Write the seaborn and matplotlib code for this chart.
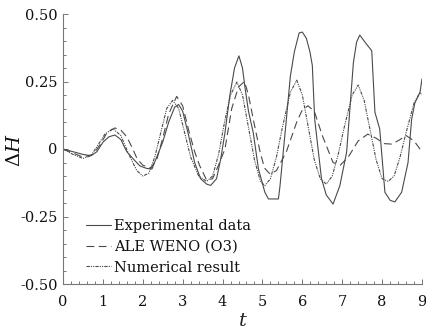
import numpy as np
import pandas as pd
import matplotlib
matplotlib.use("Agg")
import matplotlib.pyplot as plt
import seaborn as sns
from matplotlib.ticker import MultipleLocator, FixedLocator, FixedFormatter

# ---------------- data ----------------
exp_t = [0, 0.25, 0.5, 0.7, 0.85, 1.0, 1.15, 1.3, 1.45, 1.6, 1.75, 1.93, 2.1, 2.23, 2.35, 2.5,
         2.65, 2.8, 2.9, 3.0, 3.15, 3.3, 3.45, 3.6, 3.7, 3.85, 3.95, 4.06, 4.18, 4.3, 4.41,
         4.5, 4.56, 4.65, 4.77, 4.9, 5.06, 5.15, 5.4, 5.44, 5.6, 5.7, 5.8, 5.92, 6.0, 6.1,
         6.19, 6.25, 6.31, 6.48, 6.6, 6.77, 6.94, 7.11, 7.28, 7.36, 7.44, 7.6, 7.74, 7.82,
         7.94, 8.07, 8.2, 8.32, 8.49, 8.65, 8.74, 8.82, 8.95, 9.0]
exp_y = [0, -0.01, -0.02, -0.025, -0.01, 0.025, 0.045, 0.052, 0.035, -0.01, -0.035, -0.063,
         -0.072, -0.074, -0.03, 0.026, 0.1, 0.155, 0.165, 0.14, 0.05, -0.05, -0.11, -0.13,
         -0.135, -0.11, -0.04, 0.06, 0.196, 0.3, 0.345, 0.3, 0.23, 0.14, 0.06, -0.074, -0.16,
         -0.185, -0.185, -0.137, 0.11, 0.27, 0.36, 0.43, 0.433, 0.41, 0.36, 0.31, 0.11, -0.11,
         -0.17, -0.204, -0.136, -0.012, 0.32, 0.396, 0.422, 0.39, 0.364, 0.136, 0.074, -0.16,
         -0.19, -0.196, -0.16, -0.05, 0.11, 0.17, 0.21, 0.26]

ale_t = [0, 0.25, 0.5, 0.75, 0.95, 1.1, 1.3, 1.45, 1.6, 1.75, 1.86, 2.0, 2.2, 2.35, 2.5, 2.65,
         2.85, 3.0, 3.15, 3.3, 3.43, 3.6, 3.75, 3.9, 4.06, 4.23, 4.4, 4.55, 4.65, 4.77, 4.94,
         5.05, 5.19, 5.35, 5.6, 5.86, 6.0, 6.14, 6.3, 6.5, 6.77, 6.95, 7.15, 7.4, 7.64, 7.85,
         8.05, 8.25, 8.45, 8.6, 8.8, 9.0]
ale_y = [0, -0.015, -0.03, -0.02, 0.02, 0.06, 0.078, 0.07, 0.045, 0.0, -0.037, -0.06, -0.07,
         -0.04, 0.04, 0.13, 0.195, 0.16, 0.07, -0.01, -0.063, -0.115, -0.11, -0.06, 0.0, 0.15,
         0.23, 0.25, 0.2, 0.11, -0.01, -0.07, -0.093, -0.08, -0.01, 0.1, 0.145, 0.16, 0.14,
         0.05, -0.05, -0.06, -0.03, 0.03, 0.055, 0.04, 0.02, 0.018, 0.035, 0.05, 0.03, -0.01]

num_t = [0, 0.25, 0.5, 0.7, 0.9, 1.05, 1.25, 1.45, 1.65, 1.85, 2.0, 2.15, 2.3, 2.45, 2.6, 2.75,
         2.9, 3.05, 3.2, 3.4, 3.6, 3.75, 3.9, 4.05, 4.2, 4.36, 4.5, 4.65, 4.8, 4.95, 5.06, 5.2,
         5.35, 5.5, 5.7, 5.86, 6.0, 6.15, 6.3, 6.45, 6.6, 6.75, 6.9, 7.05, 7.25, 7.4, 7.55,
         7.7, 7.85, 8.0, 8.15, 8.3, 8.45, 8.6, 8.8, 8.95, 9.0]
num_y = [0, -0.02, -0.035, -0.025, 0.02, 0.055, 0.075, 0.05, -0.02, -0.08, -0.1, -0.09, -0.03,
         0.06, 0.15, 0.18, 0.15, 0.06, -0.03, -0.1, -0.12, -0.1, -0.02, 0.1, 0.2, 0.248, 0.2,
         0.08, -0.04, -0.12, -0.136, -0.11, -0.03, 0.08, 0.21, 0.255, 0.2, 0.08, -0.04, -0.11,
         -0.13, -0.1, -0.02, 0.08, 0.2, 0.237, 0.18, 0.07, -0.04, -0.11, -0.12, -0.1, -0.03,
         0.06, 0.17, 0.21, 0.2]

labels = ["Experimental data", "ALE WENO (O3)", "Numerical result"]
x_ticks = [0, 1, 2, 3, 4, 5, 6, 7, 8, 9]
y_ticks = [-0.5, -0.25, 0, 0.25, 0.5]
y_tick_labels = ["-0.50", "-0.25", "0", "0.25", "0.50"]

# ---------------- style ----------------
sns.set_theme(style="ticks")
plt.rcParams["font.family"] = ["DejaVu Serif"]
plt.rcParams["mathtext.fontset"] = "dejavuserif"
plt.rcParams["axes.unicode_minus"] = False

fig = plt.figure(figsize=(4.27, 3.33), dpi=100)
ax = fig.add_axes([63 / 427, 1 - 284 / 333, (422 - 63) / 427, (284 - 14) / 333])

lc = "#4a4a4a"
sns.lineplot(x=exp_t, y=exp_y, ax=ax, color=lc, lw=0.8, label=labels[0], sort=False)
sns.lineplot(x=ale_t, y=ale_y, ax=ax, color=lc, lw=0.8, label=labels[1], sort=False,
             linestyle=(0, (7, 4)))
sns.lineplot(x=num_t, y=num_y, ax=ax, color=lc, lw=0.8, label=labels[2], sort=False,
             linestyle=(0, (3, 1, 1, 1, 1, 1)))

ax.set_xlim(0, 9)
ax.set_ylim(-0.5, 0.5)
ax.xaxis.set_major_locator(FixedLocator(x_ticks))
ax.xaxis.set_minor_locator(MultipleLocator(0.2))
ax.yaxis.set_major_locator(FixedLocator(y_ticks))
ax.yaxis.set_major_formatter(FixedFormatter(y_tick_labels))
ax.yaxis.set_minor_locator(MultipleLocator(0.05))

for s in ["top", "right"]:
    ax.spines[s].set_visible(False)
for s in ["left", "bottom"]:
    ax.spines[s].set_color("#777777")
    ax.spines[s].set_linewidth(0.8)

ax.tick_params(which="both", direction="in", color="#777777", width=0.7,
               labelsize=10.5, labelcolor="#111111")
ax.tick_params(which="major", length=3.5)
ax.tick_params(which="minor", length=2)
ax.tick_params(axis="y", which="major", pad=4)
ax.tick_params(axis="x", which="major", pad=8)

ax.set_xlabel(r"$t$", fontsize=14, labelpad=2)
ax.set_ylabel("")
fig.text(15 / 427, 1 - 150 / 333, r"$\Delta H$", fontsize=14, rotation=90,
         ha="center", va="center", color="#111111")

leg = ax.legend(loc="lower left", bbox_to_anchor=(0.064, 0.035), frameon=False,
                fontsize=10.5, handlelength=1.7, handletextpad=0.2, labelspacing=0.45,
                borderpad=0.0, borderaxespad=0.0)
for t in leg.get_texts():
    t.set_color("#111111")

fig.savefig("out.png", dpi=100)
